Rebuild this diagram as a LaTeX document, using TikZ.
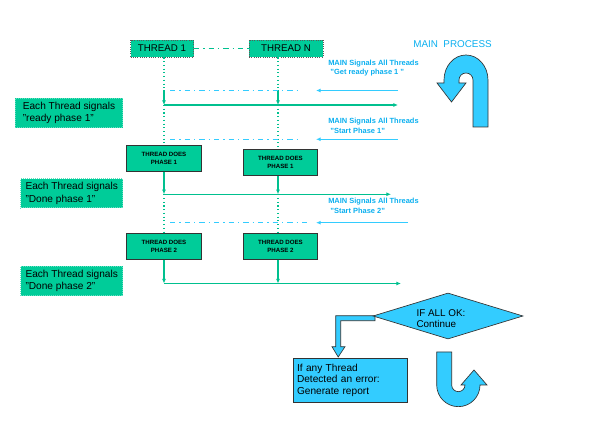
\documentclass[tikz,border=0pt]{standalone}
\usepackage{fontspec}
\setmainfont{Liberation Sans}
\usetikzlibrary{arrows.meta,shapes.geometric}
\definecolor{tgreen}{HTML}{00CC99}
\definecolor{lgreen}{HTML}{00C08F}
\definecolor{tcyan}{HTML}{33CCFF}
\definecolor{txtcyan}{HTML}{0AAFEF}
\begin{document}
\begin{tikzpicture}[x=0.75pt,y=-0.75pt,
  threadbox/.style={draw=black!65,densely dotted,fill=tgreen,line width=0.7pt,minimum height=12.75pt,inner sep=0pt,font=\fontsize{7.3}{9}\selectfont},
  phasebox/.style={draw=black!80,fill=tgreen,line width=0.7pt,minimum width=56pt,minimum height=19.6pt,inner sep=0pt,align=center,font=\bfseries\fontsize{4.6}{6}\selectfont},
  notebox/.style={draw=tgreen!60!white,densely dotted,fill=tgreen,line width=0.5pt,minimum height=21.8pt,inner sep=0pt,align=left,font=\fontsize{7.6}{9.2}\selectfont},
  sigtext/.style={anchor=north west,inner sep=0pt,align=left,text=txtcyan,font=\bfseries\fontsize{5.6}{7.1}\selectfont},
  lifeline/.style={draw=lgreen,dotted,line width=0.8pt},
  doneline/.style={draw=lgreen,line width=0.9pt,-{Latex[length=3.5pt,width=3pt]}},
  sigline/.style={draw=tcyan,line width=0.9pt,-{Latex[length=3.5pt,width=3pt]}},
  dashdot/.style={draw=tcyan,line width=0.9pt,dash pattern=on 4pt off 3pt on 1pt off 3pt},
  gdashdot/.style={draw=lgreen,line width=0.8pt,dash pattern=on 4pt off 3pt on 1pt off 3pt},
  shapeline/.style={fill=tcyan,draw=black!80,line width=0.5pt}]
\path[use as bounding box] (0,0) rectangle (597,448);

% lifeline x positions and rows
\coordinate (L1) at (164,0);
\coordinate (LN) at (278,0);
\coordinate (R1) at (0,90.5);
\coordinate (A1) at (0,105);
\coordinate (R2) at (0,139.3);
\coordinate (A2) at (0,194.3);
\coordinate (R3) at (0,222.7);
\coordinate (A3) at (0,283.5);

% thread boxes
\node[threadbox,minimum width=47.25pt] (t1) at (162,48.5) {THREAD 1};
\node[threadbox,minimum width=55.5pt] (tN) at (286,48.5) {THREAD N};
\draw[gdashdot] (t1.east) -- (tN.west);

% phase boxes
\node[phasebox] (p11) at (164,158.3) {THREAD DOES\\PHASE 1};
\node[phasebox] (pN1) at (280.5,162.5) {THREAD DOES\\PHASE 1};
\node[phasebox] (p12) at (164,246.2) {THREAD DOES\\PHASE 2};
\node[phasebox] (pN2) at (280.5,246.2) {THREAD DOES\\PHASE 2};

% left notes
\node[notebox,minimum width=80.5pt] (r1) at (69,113) {Each Thread signals\\"ready phase 1"};
\node[notebox,minimum width=76.5pt] (d1) at (71.7,193.3) {Each Thread signals\\"Done phase 1"};
\node[notebox,minimum width=76.5pt] (d2) at (71.7,281) {Each Thread signals\\"Done phase 2"};

% lifelines thread 1
\draw[lifeline] (L1 |- t1.south) -- (L1 |- R1);
\draw[doneline] (L1 |- R1) -- (L1 |- A1);
\draw[lifeline] (L1 |- A1) -- (L1 |- p11.north);
\draw[doneline] (L1 |- p11.south) -- (L1 |- A2);
\draw[lifeline] (L1 |- A2) -- (L1 |- p12.north);
\draw[doneline] (L1 |- p12.south) -- (L1 |- A3);
% lifelines thread N
\draw[lifeline] (LN |- tN.south) -- (LN |- R1);
\draw[doneline] (LN |- R1) -- (LN |- A1);
\draw[lifeline] (LN |- A1) -- (LN |- pN1.north);
\draw[doneline] (LN |- pN1.south) -- (LN |- A2);
\draw[lifeline] (LN |- A2) -- (LN |- pN2.north);
\draw[doneline] (LN |- pN2.south) -- (LN |- A3);

% main signals
\coordinate (s1a) at (398,90.5);  \coordinate (s1b) at (316,90.5);
\coordinate (s2a) at (398,139.3); \coordinate (s2b) at (316,139.3);
\coordinate (s3a) at (408,222.7); \coordinate (s3b) at (316,222.7);
\coordinate (d1a) at (170,90.5);  \coordinate (d1b) at (300,90.5);
\coordinate (d2a) at (170,139.3); \coordinate (d2b) at (300,139.3);
\coordinate (d3a) at (170,222.7); \coordinate (d3b) at (308,222.7);
\draw[dashdot] (d1a) -- (d1b);
\draw[dashdot] (d2a) -- (d2b);
\draw[dashdot] (d3a) -- (d3b);
\draw[sigline] (s1a) -- (s1b);
\draw[sigline] (s2a) -- (s2b);
\draw[sigline] (s3a) -- (s3b);

% done rows
\coordinate (e1) at (398,105);
\coordinate (e2) at (391,194.3);
\coordinate (e3) at (401,283.5);
\draw[doneline] (L1 |- A1) -- (e1);
\draw[doneline] (L1 |- A2) -- (e2);
\draw[doneline] (L1 |- A3) -- (e3);

% signal texts
\node[sigtext] (g1) at (328,59.5) {MAIN Signals All Threads\\\ "Get ready phase 1 "};
\node[sigtext] (g2) at (328,118) {MAIN Signals All Threads\\\ "Start Phase 1"};
\node[sigtext] (g3) at (328,198.3) {MAIN Signals All Threads\\\ "Start Phase 2"};

% main process
\node[text=txtcyan,font=\fontsize{7.4}{9}\selectfont,inner sep=0pt] (mp) at (452.5,44.5) {MAIN\ \ PROCESS};
\path[shapeline] (488,127) -- (488,80) arc[start angle=0,end angle=180,x radius=16.5pt,y radius=18.75pt]
  -- (444,83) -- (437,83) -- (451.5,102) -- (466,83) -- (459,83) -- (459,80)
  arc[start angle=180,end angle=0,radius=5.25pt] -- (473,127) -- cycle;

% decision
\path[shapeline] (375,315.7) -- (335.7,315.7) -- (335.7,346.7) -- (332,346.7) -- (338.2,357)
  -- (345,346.7) -- (340.7,346.7) -- (340.7,320.7) -- (375,320.7) -- cycle;
\node[shapeline,diamond,minimum width=112.5pt,minimum height=34.5pt,aspect=3.26,inner sep=0pt] (dec) at (448,316) {};
\node[align=left,inner sep=0pt,font=\fontsize{7.4}{8.3}\selectfont] (dect) at (441,318.5) {IF ALL OK:\\Continue};
\node[shapeline,minimum width=85.5pt,minimum height=33pt,inner xsep=3pt,inner ysep=0pt,text width=79.5pt,align=left,font=\fontsize{7.6}{8.6}\selectfont] (rep) at (350,380) {If any Thread\\Detected an error:\\Generate report};
\path[shapeline] (436.7,352) -- (436.7,385) arc[start angle=180,end angle=360,radius=16.25pt]
  -- (487,385) -- (474,370) -- (461,385) -- (465,385)
  arc[start angle=0,end angle=-180,radius=5pt] -- (451.7,352) -- cycle;
\end{tikzpicture}
\end{document}
